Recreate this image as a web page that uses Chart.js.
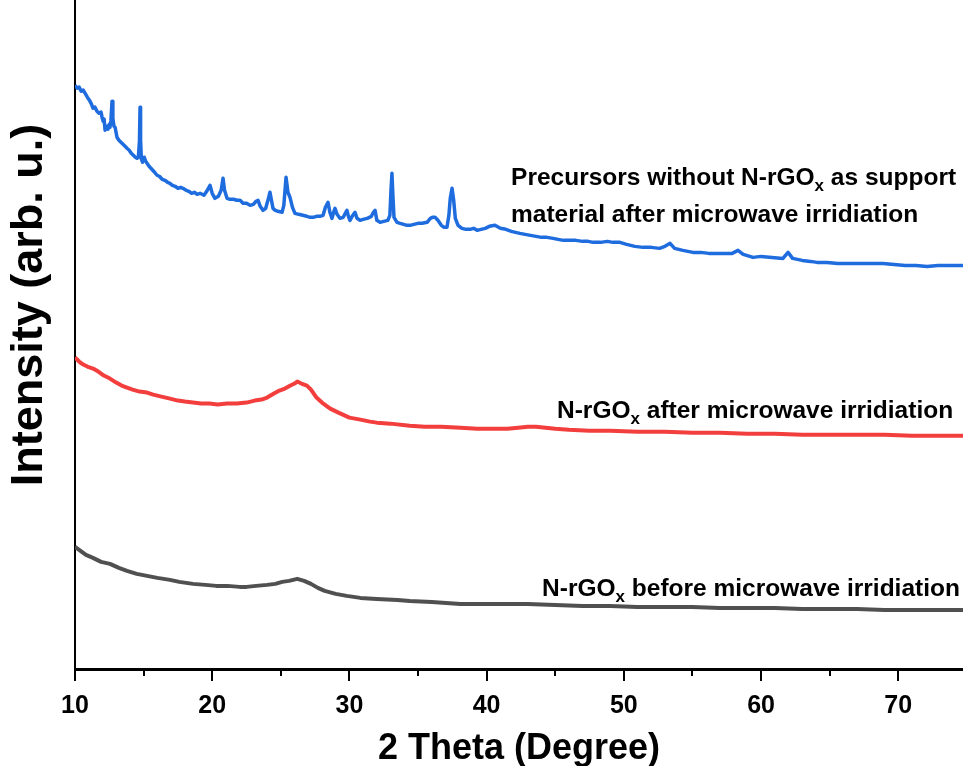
<!DOCTYPE html>
<html>
<head>
<meta charset="utf-8">
<title>XRD patterns</title>
<script src="https://cdn.jsdelivr.net/npm/chart.js@4.4.1/dist/chart.umd.min.js"></script>
<style>
  html, body { margin: 0; padding: 0; background: #fff; }
  #wrap { width: 963px; height: 766px; }
</style>
</head>
<body>
<div id="wrap"><canvas id="xrd" width="963" height="766"></canvas></div>
<script>
// 2 theta (degree) and intensity (arb. u., stacked offsets as in the figure)
const thetaPrecursor = [10.00, 10.15, 10.30, 10.45, 10.60, 10.73, 10.90, 11.05, 11.20, 11.31, 11.45, 11.60, 11.75, 11.90, 11.97, 12.05, 12.12, 12.19, 12.30, 12.40, 12.50, 12.55, 12.62, 12.70, 12.76, 12.84, 12.92, 13.06, 13.20, 13.35, 13.50, 13.65, 13.79, 13.95, 14.10, 14.25, 14.40, 14.52, 14.62, 14.70, 14.74, 14.78, 14.84, 14.92, 15.05, 15.15, 15.25, 15.40, 15.60, 15.80, 15.98, 16.15, 16.35, 16.55, 16.75, 16.92, 17.10, 17.30, 17.50, 17.70, 17.87, 18.10, 18.30, 18.50, 18.70, 18.90, 19.11, 19.40, 19.60, 19.84, 20.00, 20.20, 20.45, 20.65, 20.79, 20.90, 21.08, 21.30, 21.55, 21.80, 22.03, 22.25, 22.50, 22.76, 23.00, 23.20, 23.34, 23.50, 23.70, 23.90, 24.10, 24.21, 24.32, 24.43, 24.60, 24.80, 25.09, 25.22, 25.38, 25.52, 25.67, 25.85, 26.03, 26.30, 26.60, 26.90, 27.15, 27.35, 27.60, 27.85, 28.08, 28.25, 28.44, 28.58, 28.73, 28.85, 28.95, 29.10, 29.31, 29.55, 29.70, 29.82, 29.93, 30.04, 30.20, 30.41, 30.55, 30.77, 31.00, 31.30, 31.60, 31.75, 31.87, 32.00, 32.23, 32.50, 32.80, 32.95, 33.03, 33.10, 33.17, 33.25, 33.47, 33.70, 33.95, 34.20, 34.42, 34.70, 35.00, 35.30, 35.66, 35.90, 36.05, 36.24, 36.45, 36.70, 36.90, 37.11, 37.25, 37.35, 37.48, 37.60, 37.72, 37.92, 38.20, 38.50, 38.80, 39.05, 39.30, 39.60, 39.90, 40.20, 40.61, 41.00, 41.40, 41.80, 42.10, 42.43, 42.80, 43.20, 43.60, 44.00, 44.40, 44.84, 45.20, 45.60, 46.08, 46.50, 47.00, 47.40, 47.76, 48.30, 48.80, 49.20, 49.72, 50.20, 50.80, 51.40, 52.00, 52.60, 53.00, 53.37, 53.70, 54.30, 55.04, 55.60, 56.20, 56.80, 57.52, 57.90, 58.32, 58.70, 59.42, 60.00, 60.80, 61.60, 61.97, 62.30, 63.00, 63.60, 64.08, 64.80, 65.60, 66.49, 67.30, 68.10, 68.89, 69.70, 70.50, 71.30, 72.10, 72.90, 73.80, 74.72];
const intPrecursor = [583, 580, 581, 577, 578, 575, 571, 568, 564, 560, 561, 557, 555, 556, 551, 547, 549, 538, 542, 539, 544, 541, 548, 567, 550, 542, 541, 531, 528, 526, 524, 522, 520, 518, 515, 513, 511, 510, 511, 528, 561, 528, 509, 506, 511, 507, 505, 502, 499, 496, 493, 492, 489, 488, 486, 485, 483, 482, 480, 481, 480, 478, 477, 475, 476, 474, 475, 473, 477, 483, 475, 470, 472, 478, 490, 478, 470, 469, 469, 468, 468, 465, 465, 463, 464, 467, 468, 462, 458, 460, 470, 476, 468, 460, 458, 457, 456, 463, 491, 476, 471, 461, 455, 454, 453, 452, 451, 451, 452, 452, 453, 461, 466, 456, 450, 456, 460, 454, 450, 451, 455, 458, 452, 448, 452, 456, 450, 448, 449, 450, 452, 456, 458, 448, 446, 447, 448, 453, 478, 495, 473, 451, 446, 445, 444, 443, 443, 444, 445, 445, 446, 450, 451, 451, 448, 443, 441, 441, 453, 470, 480, 468, 450, 443, 440, 439, 439, 440, 438, 439, 440, 442, 443, 440, 439, 437, 436, 435, 434, 433, 432, 431, 431, 430, 429, 428, 428, 428, 427, 427, 426, 426, 427, 426, 426, 424, 422, 421, 421, 420, 422, 425, 420, 418, 416, 416, 415, 415, 415, 415, 418, 414, 411, 412, 411, 410, 416, 410, 408, 407, 406, 406, 405, 405, 405, 405, 405, 404, 403, 403, 402, 403, 403, 403];

const thetaAfter = [10.00, 10.30, 10.60, 10.90, 11.31, 11.70, 12.10, 12.55, 13.00, 13.40, 13.79, 14.20, 14.70, 15.25, 15.70, 16.30, 16.92, 17.50, 18.00, 18.60, 19.20, 19.80, 20.40, 21.08, 21.80, 22.50, 23.10, 23.60, 24.00, 24.50, 24.90, 25.30, 25.70, 26.00, 26.20, 26.50, 26.90, 27.20, 27.60, 28.00, 28.60, 29.20, 30.00, 30.80, 31.50, 32.00, 33.00, 34.40, 35.50, 36.70, 38.10, 39.30, 40.50, 41.50, 42.30, 43.00, 43.60, 44.30, 45.00, 46.00, 47.50, 49.00, 51.00, 53.00, 55.00, 57.00, 59.00, 61.00, 63.00, 65.00, 67.00, 69.00, 71.00, 73.00, 74.72];
const intAfter = [311, 307, 304, 302, 300, 297, 293, 290, 286, 283, 281, 279, 277, 276, 274, 272, 270, 268, 267, 266, 265, 265, 264, 265, 265, 266, 268, 269, 271, 275, 278, 280, 283, 285, 287, 285, 283, 279, 271, 266, 260, 256, 251, 249, 247, 246, 245, 243, 242, 242, 241, 240, 240, 240, 241, 242, 242, 241, 240, 239, 238, 238, 237, 237, 236, 236, 235, 235, 234, 234, 234, 234, 233, 233, 233];

const thetaBefore = [10.00, 10.40, 10.80, 11.31, 11.90, 12.55, 13.20, 13.79, 14.50, 15.25, 16.00, 16.92, 17.60, 18.60, 19.50, 20.30, 21.10, 22.00, 22.50, 23.20, 24.00, 24.60, 25.10, 25.60, 26.20, 26.70, 27.20, 27.70, 28.20, 29.00, 29.80, 30.80, 32.00, 33.50, 34.40, 36.00, 38.10, 40.00, 41.50, 43.00, 45.00, 47.00, 49.00, 51.00, 53.00, 55.00, 57.00, 59.00, 61.00, 63.00, 65.00, 67.00, 69.00, 71.00, 73.00, 74.72];
const intBefore = [122, 118, 114, 111, 107, 105, 101, 98, 95, 93, 91, 89, 87, 85, 84, 83, 83, 82, 82, 83, 84, 85, 87, 88, 90, 88, 85, 81, 78, 75, 73, 71, 70, 69, 68, 67, 65, 65, 65, 65, 64, 63, 63, 62, 62, 62, 61, 61, 61, 60, 60, 60, 59, 59, 59, 59];

const xTickValues = [10, 20, 30, 40, 50, 60, 70];
const xMinorTicks = [15, 25, 35, 45, 55, 65];

// text labels placed next to each trace, anchored in data coordinates
const traceLabels = [
    { x: 41.78, y: 483, parts: ['Precursors without N-rGO', 'x', ' as support'] },
    { x: 41.78, y: 446, parts: ['material after microwave irridiation'] },
    { x: 45.13, y: 251, parts: ['N-rGO', 'x', ' after microwave irridiation'] },
    { x: 44.04, y: 73, parts: ['N-rGO', 'x', ' before microwave irridiation'] },
];

const FONT = "'Liberation Sans', Arial, sans-serif";

function toPoints(xs, ys) {
    return xs.map((x, i) => ({ x: x, y: ys[i] }));
}

const extrasPlugin = {
    id: 'extras',
    afterDraw(chart) {
        const ctx = chart.ctx;
        const xs = chart.scales.x;
        const ys = chart.scales.y;
        const area = chart.chartArea;
        ctx.save();

        // minor ticks on the x axis
        ctx.strokeStyle = '#000';
        ctx.lineWidth = 2;
        xMinorTicks.forEach((v) => {
            const px = Math.round(xs.getPixelForValue(v));
            ctx.beginPath();
            ctx.moveTo(px, area.bottom);
            ctx.lineTo(px, area.bottom + 7);
            ctx.stroke();
        });

        // y axis title
        ctx.fillStyle = '#000';
        ctx.font = 'bold 45px ' + FONT;
        ctx.textAlign = 'center';
        ctx.textBaseline = 'middle';
        ctx.translate(30, 305);
        ctx.rotate(-Math.PI / 2);
        ctx.fillText('Intensity (arb. u.)', 0, 0);
        ctx.setTransform(1, 0, 0, 1, 0, 0);

        // trace labels with subscript x
        ctx.textAlign = 'left';
        ctx.textBaseline = 'alphabetic';
        traceLabels.forEach((lab) => {
            let px = xs.getPixelForValue(lab.x);
            const py = ys.getPixelForValue(lab.y);
            lab.parts.forEach((part, i) => {
                const sub = i === 1;
                ctx.font = sub ? 'bold 17px ' + FONT : 'bold 24.5px ' + FONT;
                ctx.fillText(part, px, sub ? py + 6 : py);
                px += ctx.measureText(part).width;
            });
        });
        ctx.restore();
    },
};

const ctx = document.getElementById('xrd').getContext('2d');
const chart = new Chart(ctx, {
    type: 'line',
    data: {
        datasets: [
            {
                label: 'Precursors without N-rGOx as support material after microwave irridiation',
                data: toPoints(thetaPrecursor, intPrecursor),
                borderColor: 'rgb(30, 108, 222)',
                borderWidth: 3.5,
            },
            {
                label: 'N-rGOx after microwave irridiation',
                data: toPoints(thetaAfter, intAfter),
                borderColor: 'rgb(243, 62, 62)',
                borderWidth: 4,
            },
            {
                label: 'N-rGOx before microwave irridiation',
                data: toPoints(thetaBefore, intBefore),
                borderColor: 'rgb(80, 80, 80)',
                borderWidth: 4,
            },
        ],
    },
    options: {
        responsive: false,
        animation: false,
        parsing: false,
        elements: {
            point: { radius: 0 },
            line: { tension: 0, borderJoinStyle: 'round' },
        },
        layout: { padding: 0 },
        plugins: {
            legend: { display: false },
            tooltip: { enabled: false },
        },
        scales: {
            x: {
                type: 'linear',
                min: 10,
                max: 74.72,
                afterFit: (scale) => { scale.height = 97; },
                afterBuildTicks: (scale) => {
                    scale.ticks = xTickValues.map((v) => ({ value: v }));
                },
                border: { display: true, color: '#000', width: 3 },
                grid: {
                    drawOnChartArea: false,
                    drawTicks: true,
                    tickLength: 12,
                    color: '#000',
                    lineWidth: 2,
                },
                ticks: {
                    color: '#000',
                    padding: 10,
                    font: { family: FONT, size: 25, weight: 'bold' },
                    maxRotation: 0,
                },
                title: {
                    display: true,
                    text: '2 Theta (Degree)',
                    color: '#000',
                    padding: { top: 0, bottom: -5 },
                    font: { family: FONT, size: 36, weight: 'bold' },
                },
            },
            y: {
                min: 0,
                max: 668,
                afterFit: (scale) => { scale.width = 75; },
                border: { display: true, color: '#000', width: 2 },
                grid: { display: false },
                ticks: { display: false },
            },
        },
    },
    plugins: [extrasPlugin],
});
</script>
</body>
</html>
